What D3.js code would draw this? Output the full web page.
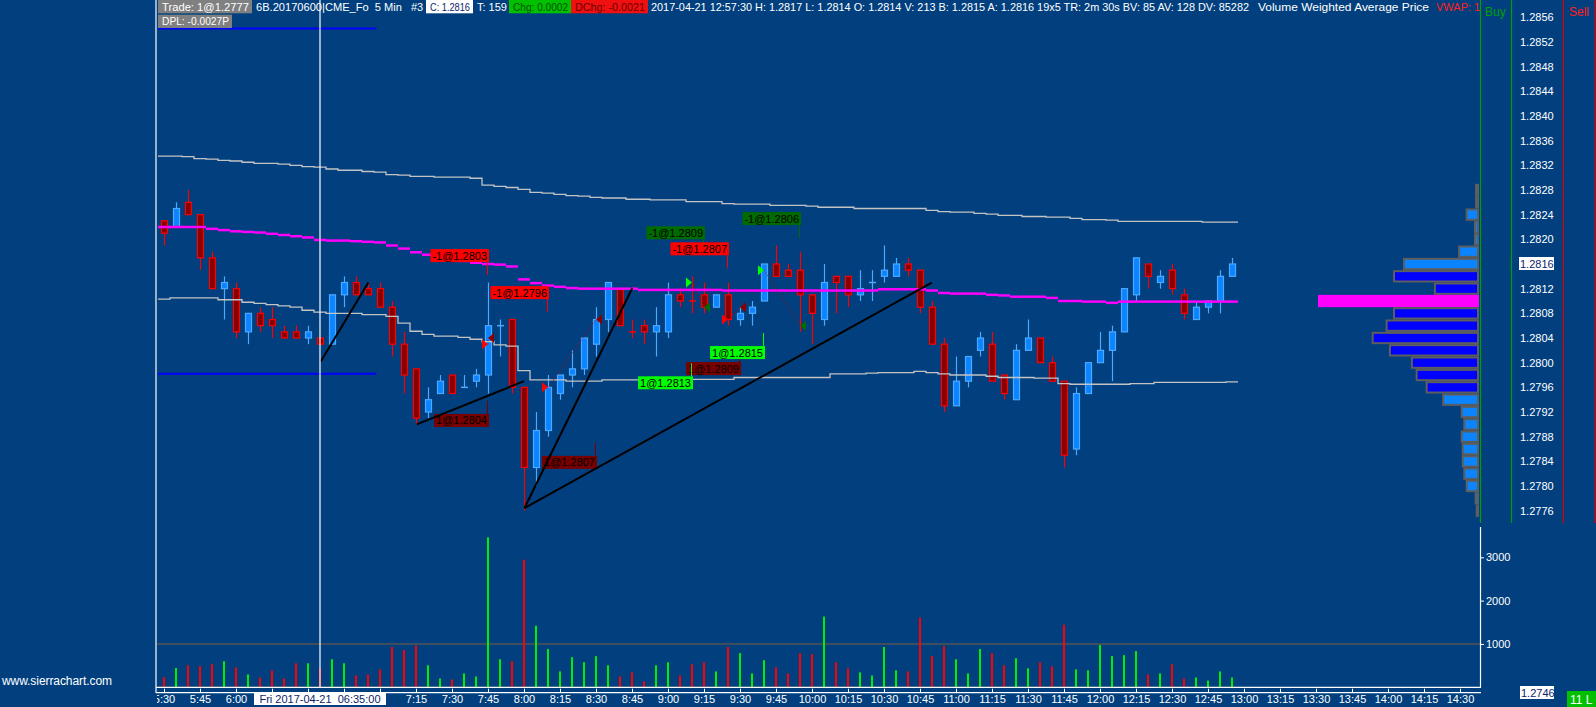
<!DOCTYPE html>
<html lang="en">
<head>
<meta charset="UTF-8">
<title>6B 5 Min</title>
<script src="https://d3js.org/d3.v7.min.js" charset="utf-8"></script>
<style>
  body { margin: 0; background: #013f7e; overflow: hidden; }
  svg text { font-family: "Liberation Sans", Arial, sans-serif; font-size: 11px; white-space: pre; }
</style>
</head>
<body>
<div id="chart"></div>
<script>
const width = 1596, height = 707;

// 5 minute bars, 2017-04-21 from 5:30
const sessionStart = new Date(2017, 3, 21, 5, 30);
const sessionEnd = new Date(2017, 3, 21, 14, 30);
const barMinutes = 5;

const opens = [1.2823,1.2822,1.2826,1.2824,1.2817,1.2812,1.2812,1.2805,1.2808,1.2807,
  1.2805,1.2805,1.2804,1.2804,1.2803,1.2811,1.2813,1.2812,1.2812,1.2809,
  1.2803,1.2799,1.2792,1.2795,1.2798,1.2796,1.2797,1.2798,1.2806,1.2807,
  1.2796,1.2783,1.2789,1.2795,1.2798,1.2799,1.2803,1.2807,1.2812,1.2805,
  1.2806,1.2805,1.2805,1.2811,1.2810,1.2811,1.2809,1.2811,1.2807,1.2808,
  1.2810,1.2816,1.2815,1.2815,1.2811,1.2807,1.2814,1.2814,1.2811,1.2813,
  1.2814,1.2814,1.2816,1.2815,1.2809,1.2803,1.2793,1.2797,1.2802,1.2803,
  1.2798,1.2794,1.2802,1.2804,1.2800,1.2797,1.2786,1.2795,1.2800,1.2802,
  1.2805,1.2811,1.2816,1.2813,1.2815,1.2811,1.2807,1.2809,1.2810,1.2814];
const highs = [1.2823,1.2826,1.2828,1.2824,1.2818,1.2814,1.2813,1.2808,1.2809,1.2809,
  1.2806,1.2806,1.2806,1.2804,1.2811,1.2814,1.2814,1.2813,1.2813,1.2810,
  1.2805,1.2799,1.2796,1.2798,1.2798,1.2798,1.2799,1.2813,1.2807,1.2807,
  1.2796,1.2792,1.2798,1.2798,1.2802,1.2804,1.2809,1.2813,1.2812,1.2807,
  1.2807,1.2809,1.2813,1.2812,1.2814,1.2813,1.2811,1.2813,1.2809,1.2810,
  1.2816,1.2819,1.2816,1.2818,1.2811,1.2816,1.2814,1.2814,1.2815,1.2815,
  1.2819,1.2817,1.2817,1.2815,1.2810,1.2804,1.2801,1.2801,1.2805,1.2805,
  1.2798,1.2803,1.2807,1.2804,1.2801,1.2797,1.2796,1.2800,1.2805,1.2806,
  1.2812,1.2817,1.2816,1.2815,1.2816,1.2812,1.2810,1.2810,1.2815,1.2817];
const lows = [1.2819,1.2822,1.2824,1.2815,1.2812,1.2807,1.2804,1.2803,1.2805,1.2804,
  1.2804,1.2804,1.2803,1.2803,1.2803,1.2809,1.2811,1.2811,1.2809,1.2801,
  1.2795,1.2790,1.2791,1.2795,1.2795,1.2796,1.2796,1.2795,1.2801,1.2795,
  1.2776,1.2780,1.2788,1.2794,1.2796,1.2798,1.2801,1.2805,1.2806,1.2804,
  1.2803,1.2801,1.2804,1.2809,1.2808,1.2808,1.2809,1.2806,1.2806,1.2806,
  1.2810,1.2814,1.2814,1.2805,1.2803,1.2806,1.2808,1.2809,1.2810,1.2810,
  1.2813,1.2814,1.2814,1.2808,1.2803,1.2792,1.2793,1.2796,1.2801,1.2797,
  1.2794,1.2794,1.2802,1.2800,1.2797,1.2783,1.2785,1.2795,1.2800,1.2797,
  1.2805,1.2810,1.2812,1.2812,1.2811,1.2807,1.2807,1.2808,1.2808,1.2814];
const closes = [1.2821,1.2825,1.2824,1.2817,1.2812,1.2813,1.2805,1.2808,1.2806,1.2806,
  1.2804,1.2804,1.2805,1.2803,1.2811,1.2813,1.2811,1.2811,1.2809,1.2803,
  1.2798,1.2791,1.2794,1.2797,1.2795,1.2796,1.2798,1.2806,1.2806,1.2796,
  1.2783,1.2789,1.2796,1.2798,1.2799,1.2804,1.2807,1.2813,1.2806,1.2805,
  1.2805,1.2806,1.2811,1.2810,1.2810,1.2809,1.2811,1.2807,1.2808,1.2809,
  1.2816,1.2814,1.2814,1.2811,1.2808,1.2813,1.2813,1.2811,1.2812,1.2813,
  1.2815,1.2816,1.2815,1.2809,1.2803,1.2793,1.2797,1.2801,1.2804,1.2797,
  1.2795,1.2802,1.2804,1.2800,1.2797,1.2785,1.2795,1.2800,1.2802,1.2805,
  1.2812,1.2817,1.2814,1.2814,1.2812,1.2808,1.2809,1.2810,1.2814,1.2816];
// bars where open == close but the bar counts as up
const dojiUpBars = [25, 28, 59];

const volumes = [234,445,508,492,531,602,461,297,227,391,
  203,555,555,445,648,555,273,297,414,930,
  859,961,508,203,180,320,250,3461,648,602,
  2945,1422,883,367,695,578,719,508,250,344,
  133,508,578,273,531,578,367,930,789,320,
  625,461,320,789,766,1633,578,438,344,273,
  930,391,367,1609,719,953,648,320,883,789,
  508,672,438,578,484,1445,414,391,977,719,
  742,836,297,320,531,203,227,156,367,227];

const vwap = [1.28220,1.28220,1.28220,1.28220,1.28217,1.28215,1.28213,1.28212,1.28211,1.28209,
  1.28207,1.28205,1.28203,1.28199,1.28198,1.28198,1.28197,1.28196,1.28195,1.28190,
  1.28185,1.28179,1.28175,1.28171,1.28168,1.28165,1.28162,1.28160,1.28159,1.28156,
  1.28135,1.28129,1.28125,1.28123,1.28121,1.28120,1.28120,1.28120,1.28120,1.28120,
  1.28118,1.28118,1.28118,1.28118,1.28118,1.28118,1.28118,1.28117,1.28117,1.28117,
  1.28117,1.28117,1.28117,1.28117,1.28117,1.28117,1.28117,1.28117,1.28117,1.28117,
  1.28119,1.28119,1.28119,1.28119,1.28117,1.28113,1.28112,1.28112,1.28112,1.28110,
  1.28109,1.28107,1.28107,1.28107,1.28105,1.28100,1.28100,1.28099,1.28099,1.28097,
  1.28099,1.28099,1.28099,1.28099,1.28099,1.28099,1.28099,1.28099,1.28099,1.28099];
const upperBand = [1.28335,1.28335,1.28334,1.28331,1.28330,1.28328,1.28327,1.28325,1.28323,1.28323,
  1.28322,1.28320,1.28318,1.28317,1.28314,1.28312,1.28312,1.28310,1.28309,1.28305,
  1.28304,1.28302,1.28302,1.28301,1.28301,1.28301,1.28299,1.28288,1.28286,1.28284,
  1.28281,1.28276,1.28275,1.28273,1.28271,1.28270,1.28268,1.28267,1.28267,1.28265,
  1.28265,1.28264,1.28264,1.28264,1.28261,1.28261,1.28261,1.28258,1.28257,1.28257,
  1.28257,1.28255,1.28255,1.28255,1.28254,1.28252,1.28252,1.28252,1.28250,1.28250,
  1.28250,1.28250,1.28250,1.28250,1.28247,1.28245,1.28244,1.28244,1.28242,1.28241,
  1.28239,1.28239,1.28237,1.28237,1.28236,1.28236,1.28234,1.28232,1.28232,1.28231,
  1.28229,1.28229,1.28229,1.28229,1.28229,1.28229,1.28229,1.28228,1.28228,1.28228];
const lowerBand = [1.28103,1.28105,1.28105,1.28105,1.28105,1.28102,1.28102,1.28098,1.28096,1.28094,
  1.28092,1.28090,1.28085,1.28082,1.28080,1.28080,1.28080,1.28078,1.28078,1.28075,
  1.28064,1.28051,1.28046,1.28043,1.28043,1.28041,1.28038,1.28034,1.28029,1.28027,
  1.27987,1.27972,1.27972,1.27972,1.27970,1.27970,1.27970,1.27972,1.27972,1.27972,
  1.27972,1.27972,1.27972,1.27972,1.27973,1.27973,1.27973,1.27973,1.27976,1.27976,
  1.27976,1.27976,1.27976,1.27976,1.27976,1.27976,1.27982,1.27982,1.27982,1.27983,
  1.27984,1.27984,1.27984,1.27986,1.27984,1.27982,1.27980,1.27980,1.27980,1.27978,
  1.27976,1.27976,1.27976,1.27975,1.27975,1.27966,1.27965,1.27965,1.27965,1.27965,
  1.27965,1.27966,1.27966,1.27968,1.27968,1.27968,1.27968,1.27968,1.27968,1.27969];

const priceTicks = [1.2776,1.2780,1.2784,1.2788,1.2792,1.2796,1.2800,1.2804,1.2808,1.2812,
  1.2816,1.2820,1.2824,1.2828,1.2832,1.2836,1.2840,1.2844,1.2848,1.2852,1.2856];
const lastPrice = 1.2816;
const volumeTicks = [1000, 2000, 3000];

// volume profile, one row per 2 ticks
const profilePrices = [1.2828,1.2826,1.2824,1.2822,1.2820,1.2818,1.2816,1.2814,1.2812,1.2810,
  1.2808,1.2806,1.2804,1.2802,1.2800,1.2798,1.2796,1.2794,1.2792,1.2790,
  1.2788,1.2786,1.2784,1.2782,1.2780,1.2778,1.2776];
const profileVolumes = [90,90,520,140,140,870,3400,3860,1980,7400,
  3860,4200,4840,4050,3040,2820,2360,1600,750,630,
  750,700,700,630,520,110,60];
const pocPrice = 1.2810, valueAreaHigh = 1.2814, valueAreaLow = 1.2796;

// fills: bar index and price
const trades = [
  { entryBar: 27, entryPrice: 1.2803, exitBar: 27, exitPrice: 1.2804, side: "short" },
  { entryBar: 32, entryPrice: 1.2796, exitBar: 36, exitPrice: 1.2807, side: "short" },
  { entryBar: 44, entryPrice: 1.2813, exitBar: 45, exitPrice: 1.2809, side: "long" },
  { entryBar: 47, entryPrice: 1.2807, exitBar: 48, exitPrice: 1.2809, side: "short" },
  { entryBar: 50, entryPrice: 1.2815, exitBar: 53, exitPrice: 1.2806, side: "long" }
];
const fillLabels = [
  { bar: 27, anchor: 1.28142, text: "-1@1.2803", fill: "#ff0000", above: true },
  { bar: 32, anchor: 1.28082, text: "-1@1.2796", fill: "#ff0000", above: true },
  { bar: 45, anchor: 1.28179, text: "-1@1.2809", fill: "#006b00", above: true },
  { bar: 47, anchor: 1.28153, text: "-1@1.2807", fill: "#ff0000", above: true },
  { bar: 53, anchor: 1.28202, text: "-1@1.2806", fill: "#006b00", above: true },
  { bar: 27, anchor: 1.27938, text: "1@1.2804", fill: "#7a0000", above: false },
  { bar: 36, anchor: 1.27870, text: "1@1.2807", fill: "#7a0000", above: false },
  { bar: 48, anchor: 1.28022, text: "1@1.2809", fill: "#7a0000", above: false },
  { bar: 44, anchor: 1.27999, text: "1@1.2813", fill: "#00ff00", above: false },
  { bar: 50, anchor: 1.28048, text: "1@1.2815", fill: "#00ff00", above: false }
];
// drawn trend lines: [bar, price] pairs
const trendLines = [
  [[13.06, 1.28002], [17.03, 1.28130]],
  [[21.06, 1.27900], [30.0, 1.27970]],
  [[30.03, 1.27764], [39.03, 1.28121]],
  [[30.03, 1.27764], [63.98, 1.28130]]
];
const priceLines = [
  { price: 1.27982, fromBar: -0.5, toBar: 17.7 },
  { price: 1.28542, fromBar: -0.5, toBar: 17.7 }
];
const cursorBar = 13;
const cursorLabel = "Fri 2017-04-21  06:35:00";

const svg = d3.select("#chart").append("svg")
  .attr("width", width)
  .attr("height", height);

svg.append("rect").attr("width", width).attr("height", height).attr("fill", "#013f7e");

const x = d3.scaleTime().domain([sessionStart, sessionEnd]).range([164, 1460]);
const y = d3.scaleLinear().domain([1.2776, 1.2856]).range([510.7, 17.3]);
const yVol = d3.scaleLinear().domain([0, 3000]).range([687.3, 557.3]);
const barTime = i => new Date(+sessionStart + i * barMinutes * 60000);
const bx = i => x(barTime(i));
const half = (bx(1) - bx(0)) / 2;

const cursorBoxL = bx(cursorBar) - 66, cursorBoxR = bx(cursorBar) + 66;

const defs = svg.append("defs");
defs.append("clipPath").attr("id", "plot")
  .append("rect").attr("x", 157).attr("y", 0).attr("width", 1480 - 157).attr("height", 527);
defs.append("clipPath").attr("id", "axisclip")
  .append("rect").attr("x", 157).attr("y", -10).attr("width", 1480 - 157).attr("height", 30);
defs.append("clipPath").attr("id", "headclip")
  .append("rect").attr("x", 157).attr("y", 0).attr("width", 1480 - 157).attr("height", 30);

const bars = opens.map((o, i) => ({
  i, o, h: highs[i], l: lows[i], c: closes[i], v: volumes[i],
  up: closes[i] > o || (closes[i] === o && dojiUpBars.includes(i))
}));

// ---- volume pane
const volG = svg.append("g");
volG.append("line")
  .attr("x1", 157).attr("x2", 1480)
  .attr("y1", yVol(1000)).attr("y2", yVol(1000))
  .attr("stroke", "#555555").attr("stroke-width", 1.6);
volG.selectAll("rect.vol")
  .data(bars)
  .enter()
  .append("rect")
  .attr("class", "vol")
  .attr("x", d => bx(d.i) - 1)
  .attr("width", 2)
  .attr("y", d => yVol(d.v))
  .attr("height", d => yVol(0) - yVol(d.v))
  .attr("fill", d => d.up ? "#00ee00" : "#ff0000");

const volAxis = d3.axisRight(yVol).tickValues(volumeTicks).tickSize(4).tickPadding(2).tickFormat(d3.format("d"));
const va = svg.append("g").attr("transform", "translate(1480,0)").call(volAxis);
va.select(".domain").remove();
va.selectAll("line").attr("stroke", "#fff");
va.selectAll("text").attr("fill", "#fff").style("font-size", "11px");
svg.append("line").attr("x1", 1480.5).attr("x2", 1480.5).attr("y1", 527).attr("y2", 687.3)
  .attr("stroke", "#fff").attr("stroke-width", 1.2);

// ---- price pane
const plot = svg.append("g").attr("clip-path", "url(#plot)");

// horizontal blue price lines
plot.selectAll("line.pl")
  .data(priceLines)
  .enter()
  .append("line")
  .attr("x1", d => bx(d.fromBar)).attr("x2", d => bx(d.toBar))
  .attr("y1", d => y(d.price)).attr("y2", d => y(d.price))
  .attr("stroke", "#0000ff").attr("stroke-width", 2);

// candles
const candles = plot.append("g");
candles.selectAll("line.wick")
  .data(bars)
  .enter()
  .append("line")
  .attr("x1", d => bx(d.i) + 0.5).attr("x2", d => bx(d.i) + 0.5)
  .attr("y1", d => y(d.h)).attr("y2", d => y(d.l))
  .attr("stroke", d => d.up ? "#4da9ff" : "#ff0000")
  .attr("stroke-width", 1.2);
candles.selectAll("rect.body")
  .data(bars.filter(d => d.o !== d.c))
  .enter()
  .append("rect")
  .attr("x", d => bx(d.i) - 2.5)
  .attr("width", 6)
  .attr("y", d => y(Math.max(d.o, d.c)))
  .attr("height", d => Math.abs(y(d.o) - y(d.c)))
  .attr("fill", d => d.up ? "#0a84ff" : "#870000")
  .attr("stroke", d => d.up ? "#4da9ff" : "#ff0000")
  .attr("stroke-width", 1.2);
candles.selectAll("line.doji")
  .data(bars.filter(d => d.o === d.c))
  .enter()
  .append("line")
  .attr("x1", d => bx(d.i) - 3).attr("x2", d => bx(d.i) + 4)
  .attr("y1", d => y(d.c)).attr("y2", d => y(d.c))
  .attr("stroke", d => d.up ? "#4da9ff" : "#ff0000")
  .attr("stroke-width", 1.5);

// std dev bands (stepped)
const stepLine = d3.line().curve(d3.curveStepAfter);
[upperBand, lowerBand].forEach(band => {
  const pts = band.map((p, i) => [bx(i) - half, y(p)]);
  pts.push([bx(band.length - 1) + half, y(band[band.length - 1])]);
  plot.append("path")
    .attr("d", stepLine(pts))
    .attr("fill", "none")
    .attr("stroke", "#c4c4c4")
    .attr("stroke-width", 1.3);
});

// VWAP segments
plot.selectAll("line.vwap")
  .data(vwap)
  .enter()
  .append("line")
  .attr("x1", (d, i) => bx(i) - half).attr("x2", (d, i) => bx(i) + half)
  .attr("y1", d => y(d)).attr("y2", d => y(d))
  .attr("stroke", "#ff00ff").attr("stroke-width", 2.5);

// volume profile
const prof = svg.append("g");
const pw = d3.scaleLinear().domain([0, d3.max(profileVolumes)]).range([0, 161]);
const rowH = y(1.2776) - y(1.2778);
profilePrices.forEach((p, k) => {
  const w = pw(profileVolumes[k]);
  const top = y(p) - rowH / 2;
  if (p === pocPrice) {
    prof.append("rect").attr("x", 1479 - w).attr("width", w)
      .attr("y", top).attr("height", rowH).attr("fill", "#ff00ff");
  } else {
    const inVA = p <= valueAreaHigh && p >= valueAreaLow;
    prof.append("rect").attr("x", 1478 - w).attr("width", Math.max(w, 1))
      .attr("y", top + 1).attr("height", rowH - 2)
      .attr("fill", inVA ? "#0000ff" : "#0a84ff")
      .attr("stroke", "#5e5e5e").attr("stroke-width", 2);
  }
});

// fill labels
const lab = plot.append("g");
fillLabels.forEach(d => {
  const xr = bx(d.bar) + 1;
  const ya = y(d.anchor);
  const boxTop = d.above ? ya - 26 : ya + 13;
  lab.append("line")
    .attr("x1", xr - 1.5).attr("x2", xr - 1.5)
    .attr("y1", d.above ? ya - 13 : ya).attr("y2", d.above ? ya : ya + 13)
    .attr("stroke", d.fill).attr("stroke-width", 1);
  const box = lab.append("rect")
    .attr("y", boxTop).attr("height", 13)
    .attr("fill", d.fill);
  const t = lab.append("text")
    .attr("x", xr - 2).attr("y", boxTop + 10.5)
    .attr("text-anchor", "end")
    .attr("fill", "#000")
    .text(d.text);
  const tw = t.node().getComputedTextLength();
  box.attr("x", xr - tw - 4).attr("width", tw + 4);
});

// fill markers and trade connectors
const mk = plot.append("g");
trades.forEach(t => {
  const ex = bx(t.entryBar), ey = y(t.entryPrice);
  const xx = bx(t.exitBar), xy = y(t.exitPrice);
  mk.append("line")
    .attr("x1", ex).attr("y1", ey).attr("x2", xx).attr("y2", xy)
    .attr("stroke", "#d00000").attr("stroke-width", 1).attr("stroke-dasharray", "1,2");
  const entryCol = t.side === "short" ? "#ff0000" : "#00ff00";
  const exitCol = t.side === "short" ? "#8a0000" : "#006b00";
  mk.append("path")
    .attr("d", `M${ex - 6},${ey - 5}L${ex},${ey}L${ex - 6},${ey + 5}Z`)
    .attr("fill", entryCol);
  mk.append("path")
    .attr("d", `M${xx + 6},${xy - 5}L${xx},${xy}L${xx + 6},${xy + 5}Z`)
    .attr("fill", exitCol);
});

// trend lines
plot.selectAll("line.trend")
  .data(trendLines)
  .enter()
  .append("line")
  .attr("x1", d => bx(d[0][0])).attr("y1", d => y(d[0][1]))
  .attr("x2", d => bx(d[1][0])).attr("y2", d => y(d[1][1]))
  .attr("stroke", "#000").attr("stroke-width", 2);

// ---- frame lines
svg.append("line").attr("x1", 156).attr("x2", 156).attr("y1", 0).attr("y2", 693)
  .attr("stroke", "#fff").attr("stroke-width", 1.2);
svg.append("line").attr("x1", bx(cursorBar)).attr("x2", bx(cursorBar)).attr("y1", 0).attr("y2", 687)
  .attr("stroke", "#fff").attr("stroke-width", 1.2);
svg.append("line").attr("x1", 156).attr("x2", 1481).attr("y1", 687.3).attr("y2", 687.3)
  .attr("stroke", "#fff").attr("stroke-width", 1.2);
svg.append("line").attr("x1", 156).attr("x2", 1481).attr("y1", 692.7).attr("y2", 692.7)
  .attr("stroke", "#fff").attr("stroke-width", 1.2);

// ---- time axis (labels hidden under the cursor date box are dropped)
const timeAxis = d3.axisBottom(x)
  .ticks(d3.timeMinute.every(15))
  .tickFormat(d3.timeFormat("%-H:%M"))
  .tickSizeInner(-4).tickSizeOuter(0).tickPadding(2);
const ta = svg.append("g")
  .attr("transform", "translate(0,692.7)")
  .attr("clip-path", "url(#axisclip)")
  .call(timeAxis);
ta.select(".domain").remove();
ta.selectAll("line").attr("stroke", "#fff");
ta.selectAll(".tick text").attr("fill", "#fff").style("font-size", "11px");
ta.selectAll(".tick").each(function (d) {
  const tx = x(d);
  if (tx > cursorBoxL - 4 && tx - 12 < cursorBoxR) d3.select(this).select("text").remove();
});

svg.append("rect")
  .attr("x", cursorBoxL).attr("width", cursorBoxR - cursorBoxL)
  .attr("y", 692).attr("height", 13).attr("fill", "#fff");
svg.append("text")
  .attr("x", bx(cursorBar)).attr("y", 702.5)
  .attr("text-anchor", "middle").attr("fill", "#0b1e6a")
  .text(cursorLabel);

svg.append("text").attr("x", 2).attr("y", 684.5).attr("fill", "#fff")
  .attr("textLength", 110).style("font-size", "12px")
  .text("www.sierrachart.com");

// ---- price scale column
svg.append("line").attr("x1", 1480.5).attr("x2", 1480.5).attr("y1", 0).attr("y2", 523).attr("stroke", "#00a000").attr("stroke-width", 1.2);
svg.append("line").attr("x1", 1511.5).attr("x2", 1511.5).attr("y1", 0).attr("y2", 523).attr("stroke", "#00a000").attr("stroke-width", 1.2);
svg.append("line").attr("x1", 1563.5).attr("x2", 1563.5).attr("y1", 0).attr("y2", 523).attr("stroke", "#e00000").attr("stroke-width", 1.2);
svg.append("line").attr("x1", 1595).attr("x2", 1595).attr("y1", 0).attr("y2", 523).attr("stroke", "#e00000").attr("stroke-width", 1.2);
svg.append("text").attr("x", 1485).attr("y", 16).attr("fill", "#00a000").style("font-size", "12px").text("Buy");
svg.append("text").attr("x", 1569).attr("y", 16).attr("fill", "#ff2020").style("font-size", "12px").text("Sell");

svg.append("g").selectAll("text")
  .data(priceTicks.filter(p => p !== lastPrice))
  .enter()
  .append("text")
  .attr("x", 1520).attr("y", d => y(d) + 4)
  .attr("fill", "#fff")
  .text(d => d.toFixed(4));
svg.append("rect").attr("x", 1519).attr("y", y(lastPrice) - 7).attr("width", 35).attr("height", 13).attr("fill", "#fff");
svg.append("text").attr("x", 1520).attr("y", y(lastPrice) + 4).attr("fill", "#0b1e6a").text(lastPrice.toFixed(4));

svg.append("rect").attr("x", 1520).attr("y", 686).attr("width", 34).attr("height", 13).attr("fill", "#fff");
svg.append("text").attr("x", 1521).attr("y", 697).attr("fill", "#0b1e6a").text("1.2746");
svg.append("rect").attr("x", 1567).attr("y", 691).attr("width", 29).attr("height", 16).attr("fill", "#00c000");
svg.append("text").attr("x", 1570).attr("y", 704).attr("fill", "#fff").style("font-size", "12px").text("11 L");

// ---- header
const head = svg.append("g").attr("clip-path", "url(#headclip)");
const headerItems = [
  { x: 158, row: 0, text: "Trade: 1@1.2777", bg: "#808080", fg: "#fff", w: 94 },
  { x: 256, row: 0, text: "6B.20170600|CME_Fo  5 Min", fg: "#fff", len: 146 },
  { x: 411, row: 0, text: "#3", fg: "#fff" },
  { x: 426, row: 0, text: "C: 1.2816", bg: "#fff", fg: "#0b1e6a", w: 47 },
  { x: 477, row: 0, text: "T: 159", fg: "#fff" },
  { x: 509, row: 0, text: "Chg: 0.0002", bg: "#00c000", fg: "#005000", w: 62 },
  { x: 571, row: 0, text: "DChg: -0.0021", bg: "#f01010", fg: "#6a0000", w: 77 },
  { x: 651, row: 0, text: "2017-04-21 12:57:30 H: 1.2817 L: 1.2814 O: 1.2814 V: 213 B: 1.2815 A: 1.2816 19x5 TR: 2m 30s BV: 85 AV: 128 DV: 85282", fg: "#fff", len: 598 },
  { x: 1258, row: 0, text: "Volume Weighted Average Price", fg: "#fff", len: 171 },
  { x: 1436, row: 0, text: "VWAP: 1", fg: "#ff2020" },
  { x: 158, row: 1, text: "DPL: -0.0027P", bg: "#808080", fg: "#fff", w: 74 }
];
headerItems.forEach(h => {
  const top = h.row === 0 ? 0 : 14.7;
  if (h.bg) {
    head.append("rect").attr("x", h.x).attr("y", top).attr("width", h.w).attr("height", 13.3).attr("fill", h.bg);
  }
  const t = head.append("text")
    .attr("x", h.bg ? h.x + 4 : h.x).attr("y", top + 10.5)
    .attr("fill", h.fg)
    .text(h.text);
  if (h.len) t.attr("textLength", h.len).attr("lengthAdjust", "spacingAndGlyphs");
  if (h.w) t.attr("textLength", h.w - 7).attr("lengthAdjust", "spacingAndGlyphs");
});
</script>
</body>
</html>
